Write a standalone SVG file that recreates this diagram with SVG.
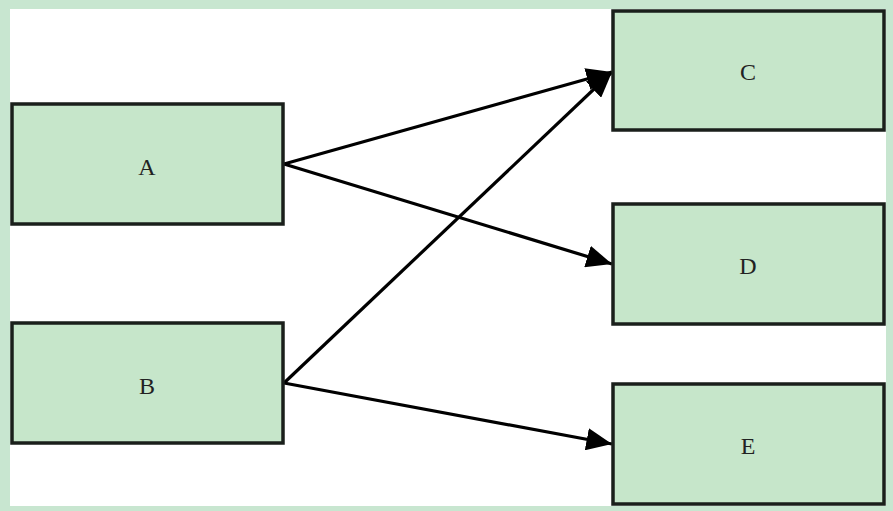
<svg xmlns="http://www.w3.org/2000/svg" width="893" height="511" viewBox="0 0 893 511">
<style>
.box{fill:#c6e6ca;stroke:#1a1f1b;stroke-width:3.5}
.lbl{font-family:"Liberation Serif",serif;font-size:24px;fill:#222;text-anchor:middle;dominant-baseline:central}
.edge{stroke:#000;stroke-width:3.2;fill:none;marker-end:url(#ah)}
</style>
<defs>
<marker id="ah" markerWidth="8" markerHeight="7" refX="8" refY="3.5" orient="auto" markerUnits="strokeWidth">
<path d="M0,0 L8,3.5 L0,7 Z" fill="#000"/>
</marker>
</defs>
<rect x="0" y="0" width="893" height="511" fill="#c8e6d0"/>
<rect x="10" y="9" width="876" height="497" fill="#fff"/>
<g id="connectors">
<line class="edge" x1="284" y1="164" x2="612" y2="72"/>
<line class="edge" x1="284" y1="164" x2="612" y2="264"/>
<line class="edge" x1="284" y1="383" x2="612" y2="72"/>
<line class="edge" x1="284" y1="383" x2="612" y2="444"/>
</g>
<g id="A"><rect class="box" x="12" y="104" width="271" height="120"/><text class="lbl" x="147" y="167">A</text></g>
<g id="B"><rect class="box" x="12" y="323" width="271" height="120"/><text class="lbl" x="147" y="386">B</text></g>
<g id="C"><rect class="box" x="613" y="11" width="271" height="119"/><text class="lbl" x="748" y="72">C</text></g>
<g id="D"><rect class="box" x="613" y="204" width="271" height="120"/><text class="lbl" x="748" y="266">D</text></g>
<g id="E"><rect class="box" x="613" y="384" width="271" height="120"/><text class="lbl" x="748" y="446">E</text></g>
</svg>
